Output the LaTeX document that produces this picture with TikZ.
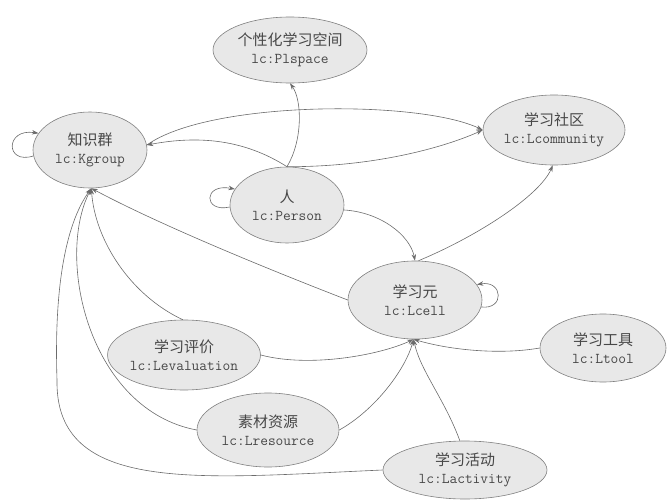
\documentclass[tikz,border=0pt]{standalone}
\usepackage{fontspec}
\newfontfamily\cjk{Noto Sans CJK SC}
\usetikzlibrary{shapes.geometric,arrows.meta}
\begin{document}
\begin{tikzpicture}[x=1pt,y=-1pt,
  nd/.style={ellipse, draw=black!50, fill=black!9, line width=0.6pt, inner sep=0pt,
    align=center, text=black!72, font=\fontsize{15}{18}\selectfont},
  ed/.style={draw=black!58, line width=0.6pt, -{Stealth[length=6.5pt,width=4.5pt]}},
  lbl/.style={}]
\useasboundingbox (0,0) rectangle (669,500);
\node[nd, minimum width=114pt, minimum height=76pt] (kg) at (90,150) {{\cjk 知识群}\\\texttt{lc:Kgroup}};
\node[nd, minimum width=154pt, minimum height=66pt] (pl) at (290,50) {{\cjk 个性化学习空间}\\\texttt{lc:Plspace}};
\node[nd, minimum width=132pt, minimum height=70pt] (cm) at (554,130) {{\cjk 学习社区}\\\texttt{lc:Lcommunity}};
\node[nd, minimum width=114pt, minimum height=76pt] (ps) at (287,205) {{\cjk 人}\\\texttt{lc:Person}};
\node[nd, minimum width=134pt, minimum height=78pt] (lc) at (415,300) {{\cjk 学习元}\\\texttt{lc:Lcell}};
\node[nd, minimum width=142pt, minimum height=70pt] (ev) at (184,355) {{\cjk 学习评价}\\\texttt{lc:Levaluation}};
\node[nd, minimum width=142pt, minimum height=74pt] (rs) at (268,430) {{\cjk 素材资源}\\\texttt{lc:Lresource}};
\node[nd, minimum width=164pt, minimum height=58pt] (ac) at (465,470) {{\cjk 学习活动}\\\texttt{lc:Lactivity}};
\node[nd, minimum width=126pt, minimum height=68pt] (tl) at (603,348) {{\cjk 学习工具}\\\texttt{lc:Ltool}};

\draw[ed] (kg.186) .. controls (5,165) and (5,128) .. (kg.162);
\draw[ed] (ps.182) .. controls (203,213) and (203,183) .. (ps.163);
\draw[ed] (lc.-6) .. controls (505,310) and (503,280) .. (lc.14);
\draw[ed] (ps.90) .. controls (303,140) and (302,100) .. (pl.270);
\draw[ed] (ps.90) .. controls (380,167) and (450,145) .. (cm.180);
\draw[ed] (kg.5) .. controls (210,100) and (420,100) .. (cm.180);
\draw[ed] (ps.90) .. controls (245,140) and (200,135) .. (kg.5);
\draw[ed] (ps.-5) .. controls (380,212) and (410,235) .. (lc.90);
\draw[ed] (lc.85) .. controls (480,235) and (540,195) .. (cm.268);
\draw[ed] (lc.180) .. controls (270,270) and (160,225) .. (kg.272);
\draw[ed] (ev.92) .. controls (130,295) and (95,240) .. (kg.272);
\draw[ed] (ev.0) .. controls (310,368) and (380,355) .. (lc.268);
\draw[ed] (rs.180) .. controls (90,410) and (55,260) .. (kg.272);
\draw[ed] (rs.0) .. controls (375,410) and (405,370) .. (lc.268);
\draw[ed] (ac.180) .. controls (200,478) and (55,495) .. (57,380) .. controls (54,290) and (65,225) .. (kg.272);
\draw[ed] (ac.100) .. controls (445,400) and (420,370) .. (lc.268);
\draw[ed] (tl.180) .. controls (500,355) and (450,350) .. (lc.268);
\end{tikzpicture}
\end{document}
